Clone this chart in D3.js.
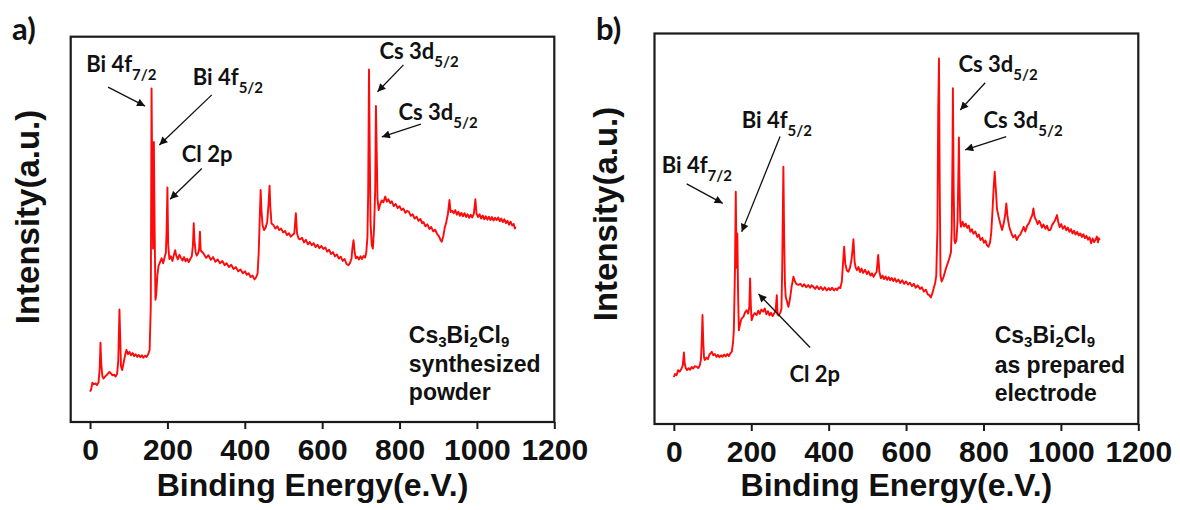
<!DOCTYPE html>
<html>
<head>
<meta charset="utf-8">
<script src="https://cdn.jsdelivr.net/npm/d3@7"></script>
<style>
  html, body { margin: 0; padding: 0; background: #ffffff; }
  svg { display: block; }
</style>
</head>
<body>
<svg id="chart" width="1180" height="510"></svg>
<script>
// XPS survey spectra of Cs3Bi2Cl9: (a) synthesized powder, (b) as-prepared electrode

const tickValues = [0, 200, 400, 600, 800, 1000, 1200];
const energyDomain = [-50, 1200];

// (a) synthesized powder
const energyA = [
  0, 3, 6, 10, 14, 18, 22, 25, 27, 29, 32, 35, 40, 45, 50, 54, 58, 62, 66, 70,
  73, 76, 78, 80, 83, 87, 91, 94, 98, 102, 106, 110, 114, 118, 122, 126, 130, 134, 138, 142,
  146, 150, 154, 157, 159, 161, 163, 165, 167, 169, 171, 174, 177, 181, 185, 189, 193, 196, 198, 200,
  202, 205, 209, 213, 217, 220, 223, 227, 231, 235, 239, 243, 247, 251, 255, 259, 263, 266, 268, 270,
  273, 276, 280, 282, 284, 286, 293, 300, 306, 312, 318, 324, 330, 336, 342, 348, 353, 359, 365, 371,
  377, 383, 389, 395, 401, 405, 410, 415, 420, 425, 429, 433, 436, 439, 441, 443, 446, 450, 454, 458,
  461, 464, 466, 469, 474, 479, 484, 489, 494, 499, 504, 509, 514, 519, 524, 528, 532, 535, 539, 543,
  548, 553, 558, 563, 568, 573, 578, 583, 588, 593, 598, 603, 608, 613, 618, 623, 628, 633, 638, 643,
  648, 653, 658, 663, 668, 672, 676, 678, 681, 684, 687, 691, 695, 699, 703, 707, 711, 714, 717, 719,
  721, 723, 725, 728, 731, 734, 737, 739, 741, 743, 746, 750, 754, 758, 763, 767, 771, 776, 780, 785,
  790, 795, 800, 805, 810, 815, 819, 824, 829, 834, 839, 844, 849, 854, 858, 862, 867, 872, 877, 882,
  887, 892, 897, 902, 906, 909, 913, 917, 921, 925, 929, 932, 936, 940, 944, 948, 952, 956, 960, 964,
  968, 972, 976, 980, 984, 988, 992, 996, 999, 1003, 1007, 1011, 1015, 1019, 1023, 1027, 1031, 1035, 1039, 1043,
  1047, 1051, 1055, 1059, 1063, 1067, 1071, 1075, 1079, 1083, 1087, 1091, 1095, 1098, 1100
];
const intensityA = [
  7.9, 8.5, 10.2, 9.8, 10.0, 9.6, 10.3, 14.0, 20.6, 15.0, 11.8, 11.3, 11.9, 12.4, 13.0, 12.6, 12.1, 12.3, 11.8, 12.5,
  16.0, 29.2, 22.0, 14.5, 13.5, 15.5, 17.5, 18.7, 17.6, 18.2, 17.3, 17.9, 17.1, 17.6, 16.9, 17.4, 16.8, 17.3, 16.7, 17.2,
  16.9, 17.5, 18.7, 30.0, 86.6, 60.0, 45.0, 72.7, 50.0, 31.7, 33.0, 38.0, 40.5, 41.5, 42.5, 41.2, 42.8, 44.0, 50.0, 60.9,
  46.0, 42.3, 43.0, 41.8, 43.5, 44.6, 43.1, 42.2, 43.4, 42.6, 41.9, 42.8, 41.7, 42.4, 41.5, 42.3, 43.0, 46.0, 51.6, 47.0,
  44.0, 43.2, 44.0, 45.0, 49.4, 44.5, 43.8, 42.6, 43.3, 42.1, 42.8, 41.6, 42.2, 41.2, 41.8, 40.7, 41.2, 40.2, 40.8, 39.7,
  40.2, 39.1, 39.6, 38.6, 39.1, 38.2, 38.6, 37.6, 38.0, 37.0, 37.5, 38.5, 44.0, 54.0, 60.2, 55.0, 51.0, 49.8, 50.5, 52.0,
  56.0, 61.3, 56.0, 51.5, 51.1, 50.2, 50.8, 49.8, 50.2, 49.2, 49.6, 48.5, 49.0, 48.1, 48.6, 49.0, 54.2, 49.0, 47.6, 47.4,
  47.8, 46.6, 47.3, 46.1, 46.7, 45.9, 46.4, 45.4, 46.0, 45.1, 45.7, 44.9, 45.3, 44.2, 44.7, 43.6, 44.1, 43.0, 43.5, 42.4,
  42.9, 41.8, 42.3, 41.0, 40.7, 41.3, 42.5, 45.0, 47.2, 44.0, 42.5, 42.9, 42.2, 43.0, 42.3, 43.1, 42.7, 44.0, 48.0, 60.0,
  91.5, 70.0, 52.0, 46.0, 45.0, 50.0, 60.0, 82.0, 70.0, 58.0, 55.0, 56.5, 57.5, 57.0, 58.5, 57.2, 57.8, 56.8, 57.3, 56.0,
  56.6, 55.5, 56.0, 55.0, 55.4, 54.3, 54.8, 54.6, 53.5, 53.9, 52.8, 53.3, 52.2, 52.7, 51.6, 51.9, 50.8, 51.3, 50.1, 50.6,
  49.5, 49.9, 48.8, 48.2, 47.2, 46.8, 48.2, 50.5, 52.0, 54.0, 57.6, 54.5, 54.8, 54.2, 55.0, 53.8, 54.6, 53.5, 54.3, 53.4,
  54.2, 53.2, 53.9, 53.0, 53.8, 53.1, 54.0, 57.8, 54.0, 53.2, 53.9, 52.8, 53.6, 52.6, 53.4, 52.5, 53.3, 52.4, 53.2, 52.3,
  53.0, 52.4, 53.1, 52.1, 52.8, 51.9, 52.6, 51.6, 52.2, 51.2, 52.0, 51.0, 51.4, 50.2, 50.7
];

// (b) as-prepared electrode
const energyB = [
  0, 3, 7, 11, 15, 19, 23, 26, 28, 31, 34, 38, 42, 46, 50, 54, 59, 63, 67, 70,
  72, 74, 76, 78, 80, 84, 88, 92, 96, 98, 102, 106, 110, 114, 118, 122, 126, 130, 134, 138,
  142, 146, 150, 153, 155, 158, 160, 162, 164, 166, 168, 171, 174, 177, 180, 184, 188, 192, 195, 197,
  199, 201, 205, 209, 214, 218, 222, 226, 231, 235, 239, 243, 247, 251, 255, 259, 263, 266, 268, 271,
  275, 278, 280, 282, 283, 285, 287, 289, 292, 296, 300, 304, 309, 313, 317, 322, 327, 332, 337, 342,
  347, 352, 356, 360, 365, 370, 375, 380, 385, 390, 395, 400, 404, 409, 414, 418, 422, 426, 430, 434,
  437, 440, 443, 447, 451, 455, 459, 462, 464, 467, 470, 473, 477, 481, 485, 489, 494, 499, 503, 508,
  512, 516, 520, 524, 528, 531, 535, 539, 543, 547, 551, 555, 559, 563, 567, 571, 575, 580, 585, 590,
  595, 600, 605, 610, 615, 620, 625, 630, 636, 641, 646, 651, 656, 660, 664, 668, 672, 675, 678, 681,
  683, 685, 687, 689, 692, 697, 702, 707, 712, 716, 718, 720, 721, 723, 725, 727, 730, 733, 735, 736.5,
  738, 740, 742, 746, 750, 754, 758, 762, 766, 770, 774, 779, 784, 788, 792, 797, 801, 805, 809, 813,
  817, 820, 823, 826, 829, 832, 835, 839, 843, 848, 852, 856, 859, 862, 866, 869, 873, 877, 882, 886,
  890, 895, 900, 904, 908, 913, 918, 922, 926, 929, 932, 936, 940, 944, 947, 951, 955, 960, 964, 968,
  973, 977, 981, 985, 988, 990, 993, 997, 1001, 1005, 1010, 1014, 1018, 1022, 1026, 1030, 1034, 1038, 1042, 1046,
  1050, 1054, 1058, 1062, 1066, 1070, 1074, 1078, 1082, 1086, 1090, 1093, 1096, 1098, 1100
];
const intensityB = [
  12.0, 12.8, 12.5, 13.8, 13.4, 14.0, 15.0, 18.3, 15.5, 14.2, 13.8, 14.3, 13.9, 14.6, 14.2, 14.8, 14.7, 14.3, 15.0, 16.5,
  21.0, 27.9, 21.0, 17.0, 16.4, 17.0, 16.6, 17.8, 18.2, 18.5, 17.6, 17.9, 17.2, 17.7, 17.1, 17.6, 17.2, 17.8, 17.3, 17.9,
  17.4, 18.1, 18.6, 21.0, 24.0, 40.0, 59.5, 40.0, 48.8, 33.0, 24.0, 25.5, 26.8, 27.2, 27.5, 28.6, 29.1, 28.3, 30.0, 37.3,
  30.0, 26.6, 27.8, 28.4, 27.9, 29.0, 28.2, 29.3, 28.8, 29.6, 28.1, 28.9, 27.8, 28.5, 27.6, 28.3, 29.0, 33.0, 28.0, 27.8,
  28.5, 29.5, 40.0, 58.0, 65.9, 48.0, 36.0, 32.6, 31.5, 30.0, 32.0, 35.0, 37.7, 36.5, 35.8, 35.6, 35.9, 35.2, 35.8, 35.0,
  35.6, 34.9, 35.5, 35.2, 34.6, 35.3, 34.5, 35.1, 34.3, 35.0, 34.2, 34.8, 34.3, 34.9, 34.2, 34.7, 34.3, 35.0, 34.8, 36.5,
  41.0, 45.4, 41.0, 39.3, 39.0, 40.0, 42.0, 45.0, 47.3, 41.5, 40.0, 39.4, 40.2, 38.9, 39.8, 38.7, 39.5, 38.4, 39.1, 38.0,
  38.6, 37.7, 38.4, 39.0, 43.3, 39.0, 37.3, 38.0, 37.1, 37.8, 36.9, 37.6, 36.8, 37.4, 36.6, 37.3, 36.4, 37.0, 36.1, 36.8,
  35.9, 36.5, 35.7, 36.2, 35.3, 35.9, 34.9, 35.5, 34.6, 35.0, 33.9, 34.4, 33.2, 33.0, 32.4, 33.5, 35.0, 36.0, 38.0, 50.0,
  80.0, 93.6, 60.0, 38.0, 36.5, 37.7, 39.5, 41.0, 42.5, 44.0, 50.0, 70.0, 86.0, 60.0, 47.0, 46.3, 47.0, 52.0, 63.0, 73.4,
  62.0, 52.0, 50.5, 51.8, 50.6, 51.3, 50.2, 50.8, 49.2, 49.9, 48.7, 49.3, 47.9, 48.5, 47.1, 47.7, 46.4, 47.0, 45.8, 45.4,
  46.5, 49.0, 54.0, 60.0, 64.6, 60.0, 55.0, 53.1, 51.5, 49.7, 51.2, 53.5, 56.5, 53.2, 50.8, 49.7, 48.6, 47.8, 48.4, 47.1,
  48.0, 48.5, 49.6, 50.5, 49.3, 50.8, 51.5, 52.6, 53.5, 55.2, 53.0, 52.2, 51.2, 52.0, 51.4, 50.3, 51.1, 50.0, 50.8, 49.6,
  49.7, 50.9, 51.5, 52.2, 53.0, 53.5, 51.8, 50.4, 51.2, 50.0, 50.7, 49.6, 50.3, 49.2, 49.9, 48.8, 49.5, 48.5, 49.2, 48.3,
  48.8, 47.9, 48.6, 47.6, 48.2, 47.2, 47.8, 46.3, 47.5, 46.6, 47.3, 48.0, 46.5, 47.6, 47.1
];

// Peak annotations: label text, subscript, label anchor, arrow tail and arrow tip (energy, intensity)
const peakLabelsA = [
  { main: "Bi 4f", sub: "7/2", at: [-10, 90.9], from: [46.5, 86.9], to: [142.2, 82.0] },
  { main: "Bi 4f", sub: "5/2", at: [265.6, 87.5], from: [314.7, 84.9], to: [179.2, 71.9] },
  { main: "Cl 2p", sub: "", at: [237.1, 67.6], from: [288.9, 65.8], to: [206.9, 57.8] },
  { main: "Cs 3d", sub: "5/2", at: [748.1, 94.1], from: [810.2, 92.7], to: [743.0, 85.7] },
  { main: "Cs 3d", sub: "5/2", at: [797.3, 78.4], from: [855.2, 77.3], to: [754.3, 74.0] }
];
const peakLabelsB = [
  { main: "Bi 4f", sub: "7/2", at: [-31.5, 64.2], from: [33.1, 61.5], to: [126.2, 56.5] },
  { main: "Bi 4f", sub: "5/2", at: [175.3, 75.7], from: [274.4, 73.6], to: [175.3, 49.2] },
  { main: "Cl 2p", sub: "", at: [298.7, 10.8], from: [352.0, 19.6], to: [218.8, 33.3] },
  { main: "Cs 3d", sub: "5/2", at: [735.5, 90.2], from: [804.5, 87.4], to: [739.9, 80.4] },
  { main: "Cs 3d", sub: "5/2", at: [800.1, 75.7], from: [858.8, 73.6], to: [752.8, 70.2] }
];

// Sample description lines; the first line is the chemical formula
const sampleA = ["synthesized", "powder"];
const sampleB = ["as prepared", "electrode"];
const formula = [["Cs", "3"], ["Bi", "2"], ["Cl", "9"]];

const panels = [
  { tag: "a)", energy: energyA, intensity: intensityA, peaks: peakLabelsA, sample: sampleA,
    left: 70.7, right: 554.3, top: 36.7, bottom: 422, tagX: 12, yTitleX: 39, yTitleY: 217,
    sampleE: 824, sampleV: [20.4, 13.0, 5.7] },
  { tag: "b)", energy: energyB, intensity: intensityB, peaks: peakLabelsB, sample: sampleB,
    left: 654.5, right: 1138.3, top: 33.5, bottom: 424, tagX: 596, yTitleX: 617, yTitleY: 214,
    sampleE: 828.8, sampleV: [20.7, 13.1, 5.9] }
];

const svg = d3.select("#chart");
const defs = svg.append("defs");
defs.append("marker")
  .attr("id", "arrowhead")
  .attr("viewBox", "0 0 10 10")
  .attr("refX", 10).attr("refY", 5)
  .attr("markerUnits", "userSpaceOnUse")
  .attr("markerWidth", 10).attr("markerHeight", 8)
  .attr("orient", "auto")
  .append("path")
  .attr("d", "M0,0 L10,5 L0,10 Z")
  .attr("fill", "#111");

const axisFont = "'Liberation Sans', Arial, sans-serif";
const labelFont = "Lato, 'Open Sans', sans-serif";

panels.forEach(p => {
  const g = svg.append("g");
  const x = d3.scaleLinear().domain(energyDomain).range([p.left, p.right]);
  const y = d3.scaleLinear().domain([0, 100]).range([p.bottom, p.top]);

  // spectrum
  const pts = p.energy.map((e, i) => [e, p.intensity[i]]);
  g.append("path")
    .datum(pts)
    .attr("fill", "none")
    .attr("stroke", "#ff0a0a")
    .attr("stroke-width", 1.9)
    .attr("stroke-linejoin", "round")
    .attr("d", d3.line().x(d => x(d[0])).y(d => y(d[1])));

  // frame
  g.append("rect")
    .attr("x", p.left).attr("y", p.top)
    .attr("width", p.right - p.left).attr("height", p.bottom - p.top)
    .attr("fill", "none").attr("stroke", "#1a1a1a").attr("stroke-width", 2.2);

  // bottom axis
  const axis = g.append("g")
    .attr("transform", `translate(0,${p.bottom})`)
    .call(d3.axisBottom(x).tickValues(tickValues).tickSize(7).tickPadding(10).tickFormat(d3.format("d")));
  axis.select(".domain").remove();
  axis.selectAll(".tick line").attr("stroke", "#1a1a1a").attr("stroke-width", 2);
  axis.selectAll(".tick text")
    .attr("fill", "#111")
    .style("font-family", axisFont)
    .style("font-weight", "bold")
    .style("font-size", "30px");

  // axis titles
  g.append("text")
    .attr("x", (p.left + p.right) / 2).attr("y", 496)
    .attr("text-anchor", "middle")
    .style("font-family", axisFont).style("font-weight", "bold").style("font-size", "32px")
    .attr("fill", "#111")
    .text("Binding Energy(e.V.)");
  g.append("text")
    .attr("transform", `translate(${p.yTitleX},${p.yTitleY}) rotate(-90)`)
    .attr("text-anchor", "middle")
    .style("font-family", axisFont).style("font-weight", "bold").style("font-size", "33px")
    .attr("fill", "#111")
    .text("Intensity(a.u.)");

  // panel tag
  g.append("text")
    .attr("x", p.tagX).attr("y", 40)
    .style("font-family", labelFont).style("font-weight", "bold").style("font-size", "31px")
    .attr("fill", "#111")
    .text(p.tag);

  // peak annotations
  p.peaks.forEach(pk => {
    g.append("line")
      .attr("x1", x(pk.from[0])).attr("y1", y(pk.from[1]))
      .attr("x2", x(pk.to[0])).attr("y2", y(pk.to[1]))
      .attr("stroke", "#111").attr("stroke-width", 1.3)
      .attr("marker-end", "url(#arrowhead)");
    const t = g.append("text")
      .attr("x", x(pk.at[0])).attr("y", y(pk.at[1]))
      .style("font-family", labelFont).style("font-weight", "bold").style("font-size", "22px")
      .attr("fill", "#111");
    t.append("tspan").text(pk.main);
    if (pk.sub) {
      t.append("tspan").attr("dy", 8).style("font-size", "15px").text(pk.sub);
    }
  });

  // sample description: formula with subscripted counts, then plain lines
  const f = g.append("text")
    .attr("x", x(p.sampleE)).attr("y", y(p.sampleV[0]))
    .style("font-family", axisFont).style("font-weight", "bold").style("font-size", "23px")
    .attr("fill", "#111");
  formula.forEach(([el, n], i) => {
    f.append("tspan").attr("dy", i === 0 ? 0 : -4).text(el);
    f.append("tspan").attr("dy", 4).style("font-size", "15px").text(n);
  });
  p.sample.forEach((line, i) => {
    g.append("text")
      .attr("x", x(p.sampleE)).attr("y", y(p.sampleV[i + 1]))
      .style("font-family", axisFont).style("font-weight", "bold").style("font-size", "23px")
      .attr("fill", "#111")
      .text(line);
  });
});
</script>
</body>
</html>
